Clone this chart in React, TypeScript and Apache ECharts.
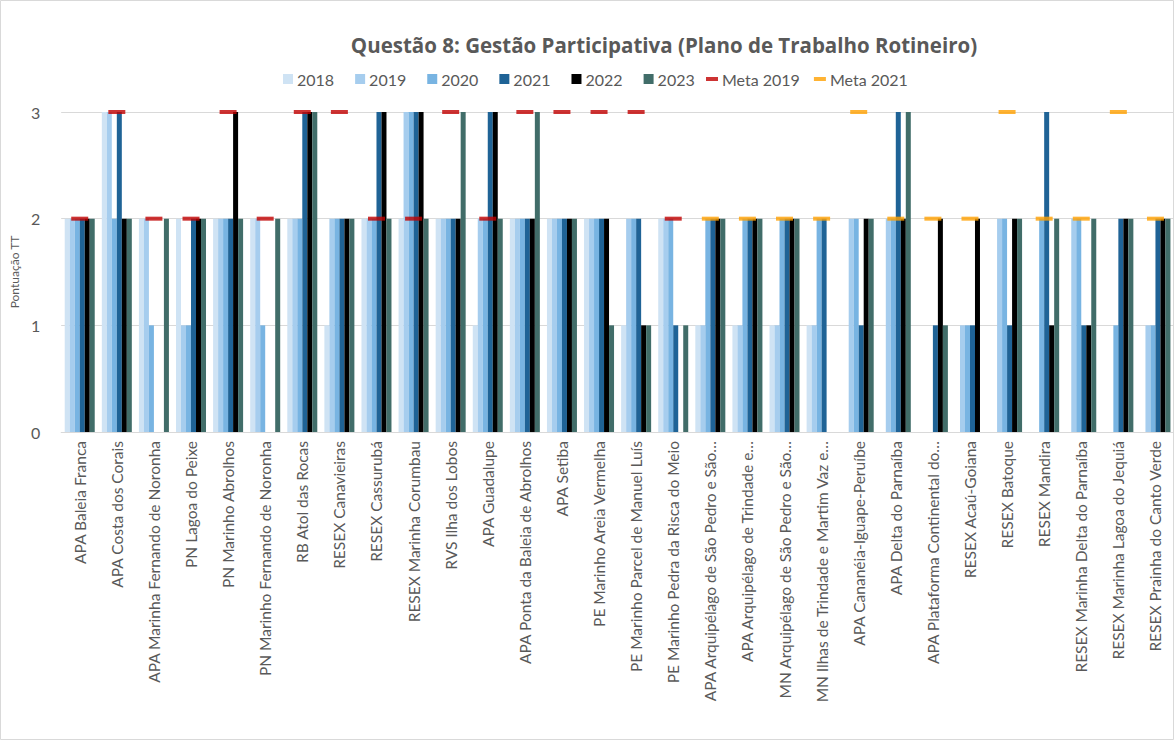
import React, { useEffect, useRef } from "react";
import * as echarts from "echarts";

const categories = [
  "APA Baleia Franca",
  "APA Costa dos Corais",
  "APA Marinha Fernando de Noronha",
  "PN Lagoa do Peixe",
  "PN Marinho Abrolhos",
  "PN Marinho Fernando de Noronha",
  "RB Atol das Rocas",
  "RESEX Canavieiras",
  "RESEX Cassurubá",
  "RESEX Marinha Corumbau",
  "RVS Ilha dos Lobos",
  "APA Guadalupe",
  "APA Ponta da Baleia de Abrolhos",
  "APA Setiba",
  "PE Marinho Areia Vermelha",
  "PE Marinho Parcel de Manuel Luís",
  "PE Marinho Pedra da Risca do Meio",
  "APA Arquipélago de São Pedro e São…",
  "APA Arquipélago de Trindade e…",
  "MN Arquipélago de São Pedro e São…",
  "MN Ilhas de Trindade e Martim Vaz e…",
  "APA Cananéia-Iguape-Peruíbe",
  "APA Delta do Parnaíba",
  "APA Plataforma Continental do…",
  "RESEX Acaú-Goiana",
  "RESEX Batoque",
  "RESEX Mandira",
  "RESEX Marinha Delta do Parnaíba",
  "RESEX Marinha Lagoa do Jequiá",
  "RESEX Prainha do Canto Verde",
];

const v2018 = [2, 3, 2, 2, 2, 2, 2, 1, 2, 2, 2, 1, 2, 2, 2, 1, 2, 1, 1, 1, 1, 0, 0, 0, 0, 0, 0, 0, 0, 0];
const v2019 = [2, 3, 2, 1, 2, 2, 2, 2, 2, 3, 2, 2, 2, 2, 2, 2, 2, 1, 1, 1, 1, 2, 2, 0, 1, 2, 0, 2, 0, 1];
const v2020 = [2, 2, 1, 1, 2, 1, 2, 2, 2, 3, 2, 2, 2, 2, 2, 2, 2, 2, 2, 2, 2, 2, 2, 0, 1, 2, 2, 2, 1, 1];
const v2021 = [2, 3, 0, 2, 2, 0, 3, 2, 3, 3, 2, 3, 2, 2, 2, 2, 1, 2, 2, 2, 2, 1, 3, 1, 1, 1, 3, 1, 2, 2];
const v2022 = [2, 2, 0, 2, 3, 0, 3, 2, 3, 3, 2, 3, 2, 2, 2, 1, 0, 2, 2, 2, 0, 2, 2, 2, 2, 2, 1, 1, 2, 2];
const v2023 = [2, 2, 2, 2, 2, 2, 3, 2, 2, 2, 3, 2, 3, 2, 1, 1, 1, 2, 2, 2, 0, 2, 3, 1, 0, 2, 2, 2, 2, 2];

const meta2019: (number | null)[] = [2, 3, 2, 2, 3, 2, 3, 3, 2, 2, 3, 2, 3, 3, 3, 3, 2, null, null, null, null, null, null, null, null, null, null, null, null, null];
const meta2021: (number | null)[] = [null, null, null, null, null, null, null, null, null, null, null, null, null, null, null, null, null, 2, 2, 2, 2, 3, 2, 2, 2, 3, 2, 2, 3, 2];

const yTicks = [0, 1, 2, 3];

const barSeries = [
  { name: "2018", data: v2018, color: "#cfe3f4" },
  { name: "2019", data: v2019, color: "#a6cdee" },
  { name: "2020", data: v2020, color: "#78b4e2" },
  { name: "2021", data: v2021, color: "#1f6396" },
  { name: "2022", data: v2022, color: "#000000" },
  { name: "2023", data: v2023, color: "#416d69" },
];

const metaSeries = [
  { name: "Meta 2019", data: meta2019, color: "#c00000" },
  { name: "Meta 2021", data: meta2021, color: "#ffa000" },
];

const FONT = "Lato, 'Open Sans', sans-serif";
const GRAY = "#595959";

export default function App() {
  const ref = useRef<HTMLDivElement>(null);
  useEffect(() => {
    document.body.style.margin = "0";
    if (!ref.current) return;
    const chart = echarts.init(ref.current, null, { renderer: "svg" });
    const option: any = {
      animation: false,
      backgroundColor: "#ffffff",
      graphic: [
        {
          type: "rect",
          silent: true,
          shape: { x: 0.5, y: 0.5, width: 1173, height: 739 },
          style: { fill: "none", stroke: "#d9d9d9", lineWidth: 1 },
          z: -1,
        },
      ],
      title: {
        text: "Questão 8: Gestão Participativa (Plano de Trabalho Rotineiro)",
        left: 659,
        top: 29,
        textAlign: "center",
        textStyle: { fontFamily: "'Open Sans', sans-serif", fontSize: 20.5, fontWeight: "bold", color: GRAY },
      },
      legend: [
        {
          data: barSeries.map((s) => ({ name: s.name, icon: "rect" })),
          left: 278,
          top: 66,
          itemWidth: 10,
          itemHeight: 10,
          itemGap: 21,
          textStyle: { fontFamily: FONT, fontSize: 16, color: GRAY, padding: [0, 0, 0, -1] },
        },
        {
          data: metaSeries.map((s) => ({ name: s.name, icon: "rect" })),
          left: 701,
          top: 66,
          itemWidth: 12,
          itemHeight: 4,
          itemGap: 14,
          textStyle: { fontFamily: FONT, fontSize: 16, color: GRAY, padding: [0, 0, 0, -1] },
        },
      ],
      grid: { left: 52, right: 0, top: 112, bottom: 308, containLabel: false },
      xAxis: {
        type: "category",
        data: categories,
        axisLine: { lineStyle: { color: "#d9d9d9", width: 1 } },
        axisTick: { show: false },
        axisLabel: {
          rotate: 90,
          interval: 0,
          margin: 9,
          fontFamily: FONT,
          fontSize: 15.5,
          color: GRAY,
        },
      },
      yAxis: {
        type: "value",
        min: 0,
        max: 3,
        interval: 1,
        name: "Pontuação TT",
        nameLocation: "middle",
        nameGap: 28,
        nameTextStyle: { fontFamily: FONT, fontSize: 12, color: GRAY },
        axisLine: { show: false },
        axisTick: { show: false },
        splitLine: { lineStyle: { color: "#d9d9d9", width: 1 } },
        axisLabel: {
          margin: 21,
          fontFamily: FONT,
          fontSize: 16,
          color: GRAY,
          formatter: (v: number) => (yTicks.includes(v) ? String(v) : ""),
        },
      },
      series: [
        ...barSeries.map((s) => ({
          name: s.name,
          type: "bar",
          data: s.data,
          barWidth: 5,
          barGap: "0%",
          itemStyle: { color: s.color },
        })),
        ...metaSeries.map((s) => ({
          name: s.name,
          type: "scatter",
          data: s.data.map((v) => (v === null ? "-" : v)),
          symbol: "rect",
          symbolSize: [17, 4],
          itemStyle: { color: s.color },
          z: 5,
        })),
      ],
    };
    chart.setOption(option);
    return () => chart.dispose();
  }, []);
  return (
    <div
      ref={ref}
      style={{
        position: "absolute",
        left: 0,
        top: 0,
        width: 1174,
        height: 740,
      }}
    />
  );
}
